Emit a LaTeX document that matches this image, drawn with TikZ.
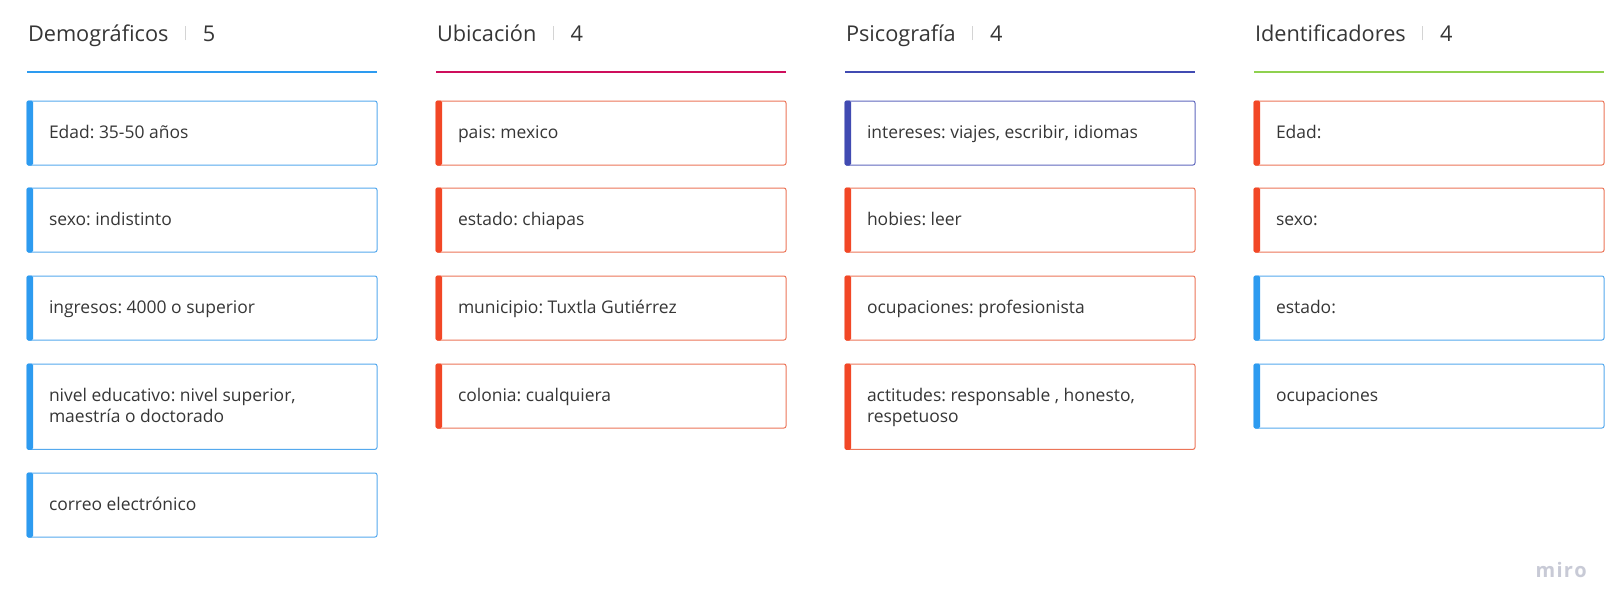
\documentclass[tikz,border=0pt]{standalone}
\usepackage{fontspec}
\setmainfont{Open Sans}
\frenchspacing
\definecolor{txt}{HTML}{363636}
\definecolor{sepgray}{HTML}{D4D4D4}
\definecolor{bluebar}{HTML}{2D9BF0}
\definecolor{blueline}{HTML}{55A9EE}
\definecolor{redbar}{HTML}{F24726}
\definecolor{redline}{HTML}{EC7558}
\definecolor{purplebar}{HTML}{414BB2}
\definecolor{purpleline}{HTML}{6068BE}
\definecolor{crimson}{HTML}{CE0E5C}
\definecolor{greenline}{HTML}{8FD14F}
\definecolor{mirogray}{HTML}{C8CAD6}
\tikzset{
  headtxt/.style={inner sep=0pt, outer sep=0pt, text=txt, font=\fontsize{16.3}{19}\selectfont},
  cardbox/.style={rectangle, rounded corners=1.5pt, line width=0.75pt, minimum width=262.5pt, inner sep=0pt, outer sep=0pt, fill=white},
  cardtxt/.style={inner sep=0pt, outer sep=0pt, text=txt, font=\fontsize{13.1}{15.75}\selectfont},
  underline/.style={line width=1.5pt}
}
\newcommand\colhead[5]{%
  \node[headtxt, anchor=base west] (#1) at (#2+1,41) {#3\hspace{12.5pt}\textcolor{sepgray}{\rule[0.75pt]{0.75pt}{10.5pt}}\hspace{12.5pt}#4};
  \coordinate (#1-l) at (#2,72);
  \coordinate (#1-r) at (#2+350,72);
  \draw[underline, #5] (#1-l) -- (#1-r);
}
\newcommand\cardbar[2]{%
  \fill[#2, rounded corners=1.2pt] ([xshift=-0.375pt,yshift=0.375pt]#1.north west) rectangle ([xshift=4.5pt,yshift=-0.375pt]#1.south west);
}
\newcommand\card[6]{% name, x, top, bar, border, text
  \node[cardbox, draw=#5, minimum height=48pt, anchor=north west] (#1) at (#2,#3) {};
  \cardbar{#1}{#4}
  \node[cardtxt, anchor=base west] (#1-t) at ([xshift=16.5pt, yshift=-4.2pt]#1.west) {#6};
}
\newcommand\cardtwo[7]{% name, x, top, bar, border, line1, line2
  \node[cardbox, draw=#5, minimum height=64pt, anchor=north west] (#1) at (#2,#3) {};
  \cardbar{#1}{#4}
  \node[cardtxt, anchor=base west] (#1-t) at ([xshift=16.5pt, yshift=3.7pt]#1.west) {\parbox[t]{240pt}{\raggedright #6\\#7}};
}
\begin{document}
\begin{tikzpicture}[x=0.75pt,y=-0.75pt]
\useasboundingbox[fill=white] (0,0) rectangle (1624,615);
% headers
\colhead{h1}{27}{Demográficos}{5}{bluebar}
\colhead{h2}{436}{Ubicación}{4}{crimson}
\colhead{h3}{845}{Psicografía}{4}{purplebar}
\colhead{h4}{1254}{Identificadores}{4}{greenline}
% column 1
\card{a1}{27}{101}{bluebar}{blueline}{Edad: 35-50 años}
\card{a2}{27}{188}{bluebar}{blueline}{sexo: indistinto}
\card{a3}{27}{276}{bluebar}{blueline}{ingresos: 4000 o superior}
\cardtwo{a4}{27}{364}{bluebar}{blueline}{nivel educativo: nivel superior,}{maestría o doctorado}
\card{a5}{27}{473}{bluebar}{blueline}{correo electrónico}
% column 2
\card{b1}{436}{101}{redbar}{redline}{pais: mexico}
\card{b2}{436}{188}{redbar}{redline}{estado: chiapas}
\card{b3}{436}{276}{redbar}{redline}{municipio: Tuxtla Gutiérrez}
\card{b4}{436}{364}{redbar}{redline}{colonia: cualquiera}
% column 3
\card{c1}{845}{101}{purplebar}{purpleline}{intereses: viajes, escribir, idiomas}
\card{c2}{845}{188}{redbar}{redline}{hobies: leer}
\card{c3}{845}{276}{redbar}{redline}{ocupaciones: profesionista}
\cardtwo{c4}{845}{364}{redbar}{redline}{actitudes: responsable , honesto,}{respetuoso}
% column 4
\card{d1}{1254}{101}{redbar}{redline}{Edad:}
\card{d2}{1254}{188}{redbar}{redline}{sexo:}
\card{d3}{1254}{276}{bluebar}{blueline}{estado:}
\card{d4}{1254}{364}{bluebar}{blueline}{ocupaciones}
% logo
\node[inner sep=0pt, text=mirogray, font=\fontsize{15}{18}\selectfont\bfseries, anchor=base east] (logo) at (1587,577) {m\kern1pt i\kern1pt r\kern1pt o};
\end{tikzpicture}
\end{document}
